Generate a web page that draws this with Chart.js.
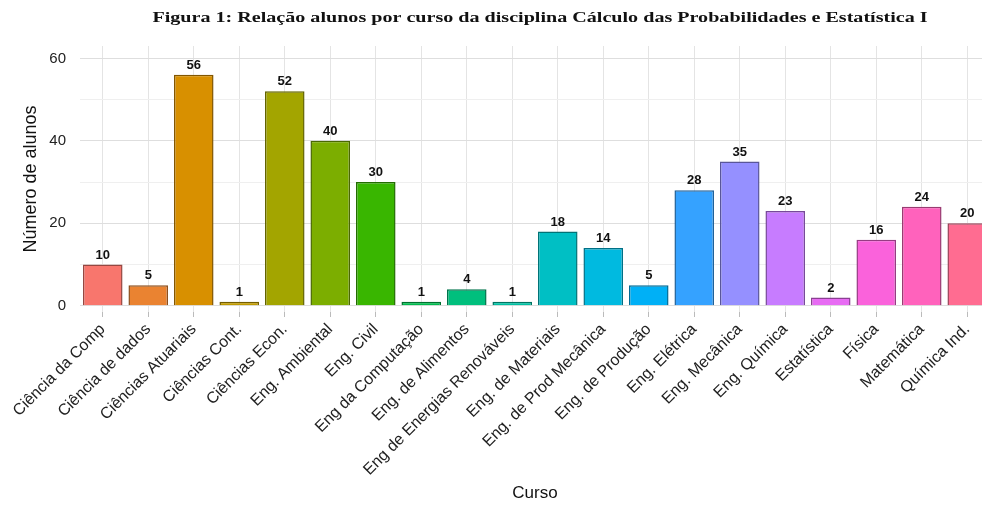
<!DOCTYPE html>
<html>
<head>
<meta charset="utf-8">
<script src="https://cdn.jsdelivr.net/npm/chart.js@4"></script>
<style>
html,body{margin:0;padding:0;background:#fff;overflow:hidden}
#wrap{position:relative;width:992px;height:508px}
</style>
</head>
<body>
<div id="wrap"><canvas id="grafico"></canvas></div>
<script>
const cursos = ["Ciência da Comp","Ciência de dados","Ciências Atuariais","Ciências Cont.","Ciências Econ.","Eng. Ambiental","Eng. Civil","Eng da Computação","Eng. de Alimentos","Eng de Energias Renováveis","Eng. de Materiais","Eng. de Prod Mecânica","Eng. de Produção","Eng. Elétrica","Eng. Mecânica","Eng. Química","Estatística","Física","Matemática","Química Ind."]
const alunos = [10,5,56,1,52,40,30,1,4,1,18,14,5,28,35,23,2,16,24,20]
const cores = ["#F8766D","#EA8331","#D89000","#C09B00","#A3A500","#7CAE00","#39B600","#00BB4E","#00BF7D","#00C1A3","#00BFC4","#00BAE0","#00B0F6","#35A2FF","#9590FF","#C77CFF","#E76BF3","#FA62DB","#FF62BC","#FF6C91"]
const yTicks = [0,10,20,30,40,50,60]
const titulo = "Figura 1: Relação alunos por curso da disciplina Cálculo das Probabilidades e Estatística I"

function escurecer(hex,f){
const n = parseInt(hex.slice(1),16)
const r = Math.round((n>>16)*f), g = Math.round(((n>>8)&255)*f), b = Math.round((n&255)*f)
return "rgb("+r+","+g+","+b+")"
}

const rotulos = {
id:"rotulos",
afterDatasetsDraw(chart){
const ctx = chart.ctx
const meta = chart.getDatasetMeta(0)
ctx.save()
ctx.font = "bold 13px 'Liberation Sans', Arial, sans-serif"
ctx.fillStyle = "#111"
ctx.textAlign = "center"
ctx.textBaseline = "bottom"
meta.data.forEach((bar,i)=>{
ctx.fillText(alunos[i], bar.x, bar.y - 3)
})
// titulo esticado como na figura original
ctx.font = "bold 15px 'Liberation Serif', 'Times New Roman', serif"
ctx.textBaseline = "middle"
ctx.translate(540,18)
ctx.scale(1.34,1)
ctx.fillText(titulo,0,0)
ctx.restore()
}
}

new Chart(document.getElementById("grafico"),{
type:"bar",
data:{
labels:cursos,
datasets:[{
data:alunos,
backgroundColor:cores,
borderColor:cores.map(c=>escurecer(c,0.6)),
borderWidth:1.5,
categoryPercentage:1,
barPercentage:0.87
}]
},
options:{
responsive:true,
maintainAspectRatio:false,
animation:false,
layout:{padding:{left:4,right:2,bottom:0,top:46}},
plugins:{
legend:{display:false},
tooltip:{enabled:false},
title:{display:false}
},
scales:{
x:{
offset:true,
afterFit(axis){ axis.height = 196 },
grid:{offset:false,color:"#e4e4e4",tickLength:5,tickColor:"#bbb",drawTicks:true},
border:{display:false},
ticks:{
minRotation:45,maxRotation:45,autoSkip:false,
color:"#222",
font:{family:"'Liberation Sans', Arial, sans-serif",size:16}
},
title:{display:true,text:"Curso",color:"#111",
font:{family:"'Liberation Sans', Arial, sans-serif",size:17},padding:{top:0,bottom:4}}
},
y:{
min:-1.5,max:63,
afterFit(axis){ axis.width = 76 },
afterBuildTicks(axis){ axis.ticks = yTicks.map(v=>({value:v})) },
grid:{
color:ctx=>ctx.tick && ctx.tick.value % 20 === 0 ? "#dedede" : "#efefef",
drawTicks:false
},
border:{display:false},
ticks:{
color:"#222",padding:14,
font:{family:"'Liberation Sans', Arial, sans-serif",size:15},
callback:v=>v % 20 === 0 ? v : ""
},
title:{display:true,text:"Número de alunos",color:"#111",
font:{family:"'Liberation Sans', Arial, sans-serif",size:18},padding:{top:16,bottom:0}}
}
}
},
plugins:[rotulos]
})
</script>
</body>
</html>
